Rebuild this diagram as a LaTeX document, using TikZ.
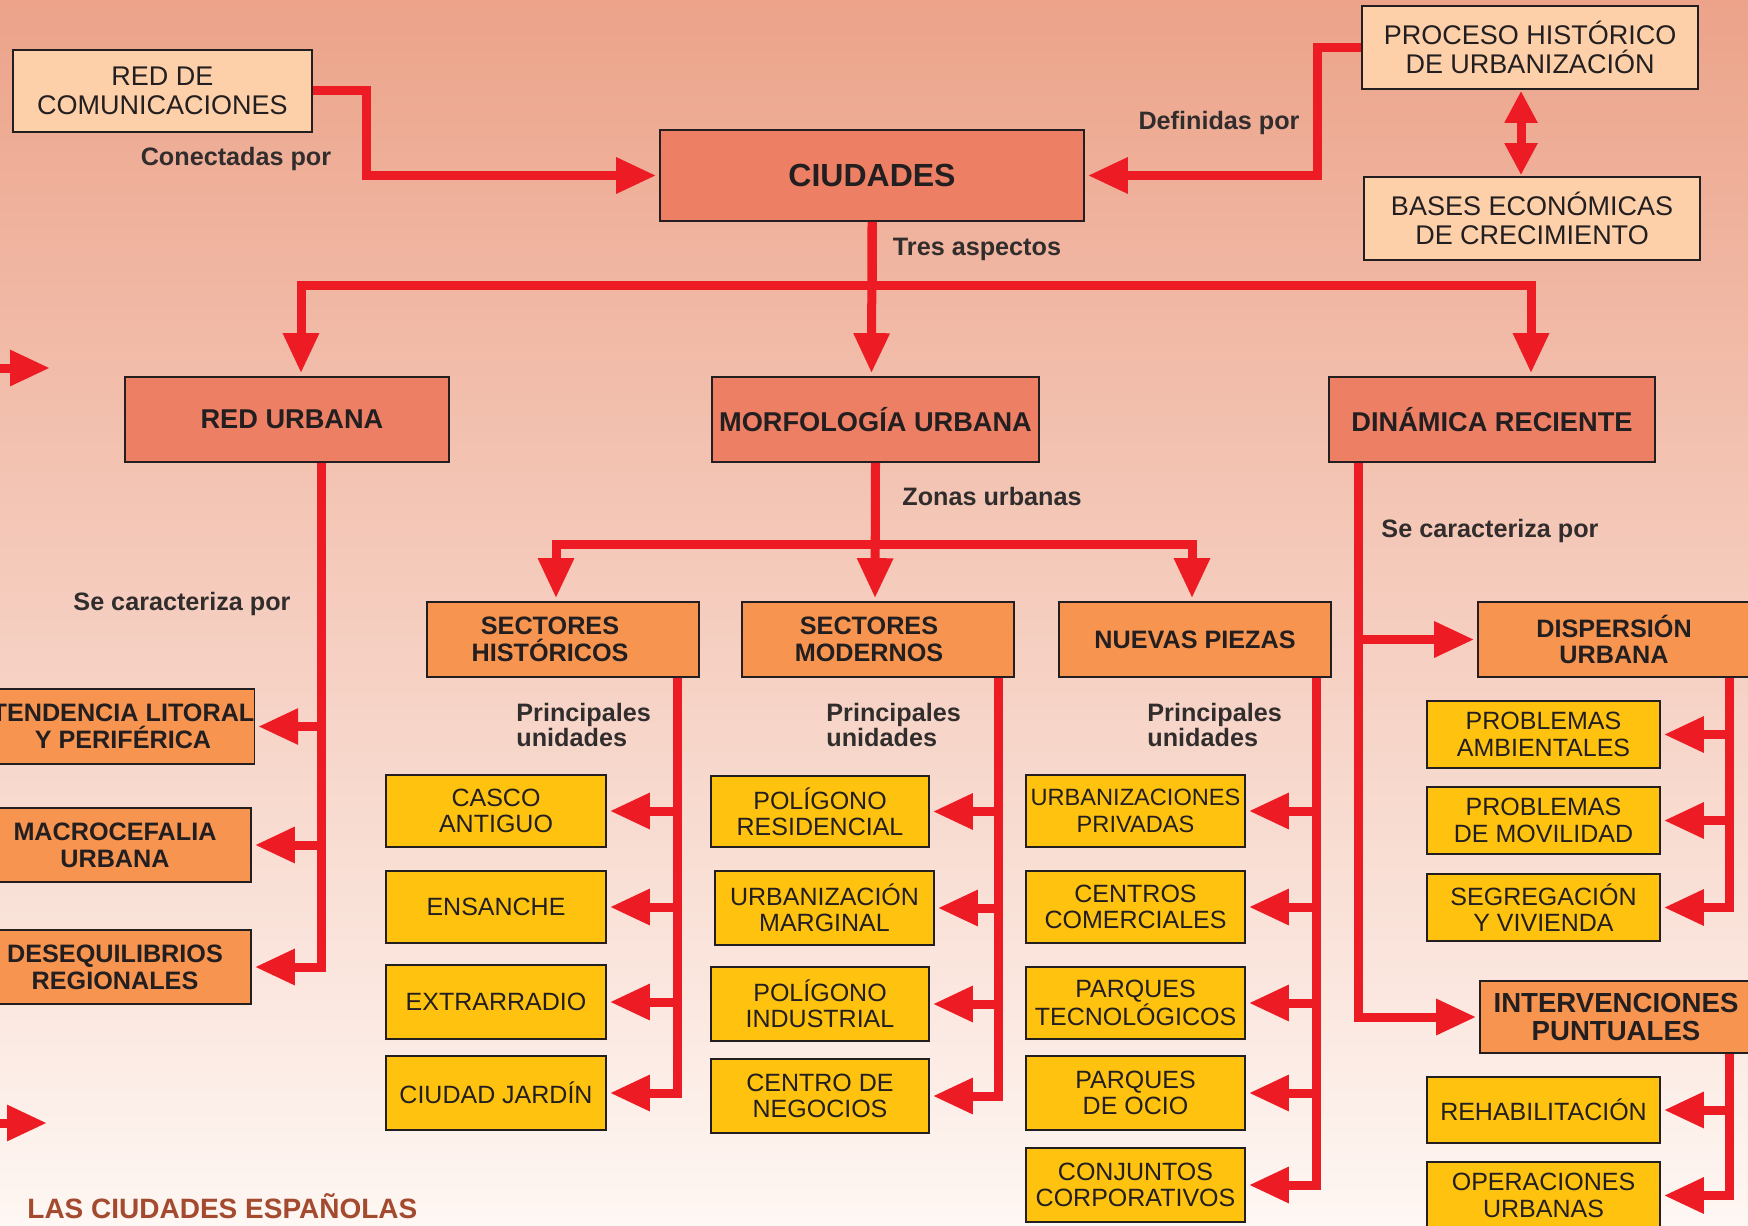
\documentclass[tikz,border=0pt]{standalone}
\usepackage{fontspec}
\setmainfont{Liberation Sans}
\usetikzlibrary{arrows.meta,calc}
\definecolor{bgtop}{RGB}{236,163,138}
\definecolor{bgmid}{RGB}{244,202,186}
\definecolor{bgbot}{RGB}{254,247,243}
\definecolor{peach}{RGB}{253,208,170}
\definecolor{salmon}{RGB}{236,127,100}
\definecolor{orangebox}{RGB}{247,148,80}
\definecolor{yellowbox}{RGB}{255,194,15}
\definecolor{redline}{RGB}{237,28,36}
\definecolor{txt}{RGB}{35,31,32}
\definecolor{lbl}{RGB}{50,45,45}
\definecolor{titlec}{RGB}{163,74,47}
\begin{document}
\begin{tikzpicture}[x=0.5pt,y=-0.5pt,
  sz/.style 2 args={minimum width=#1*0.5pt, minimum height=#2*0.5pt},
  box/.style={draw=txt, line width=0.8pt, inner sep=0pt, align=center, text=txt},
  topbox/.style={box, fill=peach, font=\fontsize{13.5}{14.5}\selectfont},
  mainbox/.style={box, fill=salmon, font=\fontsize{16}{18}\selectfont\bfseries},
  lvltwo/.style={box, fill=salmon, font=\fontsize{13.6}{15}\selectfont\bfseries},
  lvlthree/.style={box, fill=orangebox, font=\fontsize{12.6}{13.4}\selectfont\bfseries},
  ybox/.style={box, fill=yellowbox, font=\fontsize{12.5}{13.2}\selectfont},
  lab/.style={inner sep=0pt, text=lbl, font=\fontsize{12.6}{12.5}\selectfont\bfseries},
  conn/.style={draw=redline, line width=4.5pt, -{Triangle[length=20pt,width=17pt]}, shorten >=1.5pt},
  dbl/.style={draw=redline, line width=4.5pt, {Triangle[length=16pt,width=15.5pt]}-{Triangle[length=16pt,width=15.5pt]}, shorten >=0.5pt, shorten <=0.5pt}
]
\shade[top color=bgtop, middle color=bgmid, bottom color=bgbot] (0,0) rectangle (1748,1225);
\useasboundingbox (0,0) rectangle (1748,1225);
\clip (0,0) rectangle (1748,1225);

% top level
\node[topbox, sz={299}{82}] (redcom) at (162.5,91) {RED DE\\COMUNICACIONES};
\node[mainbox, sz={424}{91}] (ciudades) at (872,175.5) {CIUDADES};
\node[topbox, sz={336}{83}] (proceso) at (1530,47.5) {PROCESO HISTÓRICO\\DE URBANIZACIÓN};
\node[topbox, sz={336}{83}] (bases) at (1532,218.5) {BASES ECONÓMICAS\\DE CRECIMIENTO};

% second level
\node[lvltwo, sz={324}{85}] (redurb) at (287,419.5) {\hspace*{5pt}RED URBANA};
\node[lvltwo, sz={327}{85}] (morf) at (875.5,419.5) {MORFOLOGÍA URBANA};
\node[lvltwo, sz={326}{85}] (dinam) at (1492,419.5) {DINÁMICA RECIENTE};

% third level
\node[lvlthree, sz={272}{75}] (sechist) at (563,639.5) {SECTORES\hspace*{13pt}\\HISTÓRICOS\hspace*{13pt}};
\node[lvlthree, sz={272}{75}] (secmod) at (878,639.5) {SECTORES\hspace*{9pt}\\MODERNOS\hspace*{9pt}};
\node[lvlthree, sz={272}{75}] (nuevas) at (1195,639.5) {NUEVAS PIEZAS};
\node[lvlthree, sz={272}{75}] (dispersion) at (1614,639.5) {DISPERSIÓN\\URBANA};
\node[lvlthree, sz={272}{72}, font=\fontsize{13.8}{14}\selectfont\bfseries] (interv) at (1616,1017) {INTERVENCIONES\\PUNTUALES};
\node[lvlthree, sz={260}{75}] (tendencia) at (123,726.5) {TENDENCIA LITORAL\\Y PERIFÉRICA};
\node[lvlthree, sz={272}{74}] (macro) at (115,845) {MACROCEFALIA\\URBANA};
\node[lvlthree, sz={272}{74}] (deseq) at (115,967) {DESEQUILIBRIOS\\REGIONALES};

% yellow column 1
\node[ybox, sz={220}{72}] (casco) at (496,811) {CASCO\\ANTIGUO};
\node[ybox, sz={220}{72}] (ensanche) at (496,907) {ENSANCHE};
\node[ybox, sz={220}{74}] (extrarradio) at (496,1002) {EXTRARRADIO};
\node[ybox, sz={220}{74}] (jardin) at (496,1093) {CIUDAD JARDÍN};
% yellow column 2
\node[ybox, sz={218}{71}] (polres) at (820,811.5) {POLÍGONO\\RESIDENCIAL};
\node[ybox, sz={219}{74}] (urbmarg) at (824.5,908) {URBANIZACIÓN\\MARGINAL};
\node[ybox, sz={218}{74}] (polind) at (820,1004) {POLÍGONO\\INDUSTRIAL};
\node[ybox, sz={218}{74}] (negocios) at (820,1096) {CENTRO DE\\NEGOCIOS};
% yellow column 3
\node[ybox, sz={219}{72}, font=\fontsize{11.8}{13.2}\selectfont] (urbpriv) at (1135.5,811) {URBANIZACIONES\\PRIVADAS};
\node[ybox, sz={219}{72}] (comerciales) at (1135.5,907) {CENTROS\\COMERCIALES};
\node[ybox, sz={219}{72}] (tecno) at (1135.5,1003) {PARQUES\\TECNOLÓGICOS};
\node[ybox, sz={219}{74}] (ocio) at (1135.5,1093) {PARQUES\\DE OCIO};
\node[ybox, sz={219}{74}] (conjuntos) at (1135.5,1185) {CONJUNTOS\\CORPORATIVOS};
% yellow column 4
\node[ybox, sz={233}{67}] (probamb) at (1543.5,734.5) {PROBLEMAS\\AMBIENTALES};
\node[ybox, sz={233}{67}] (probmov) at (1543.5,820.5) {PROBLEMAS\\DE MOVILIDAD};
\node[ybox, sz={233}{67}] (segreg) at (1543.5,907.5) {SEGREGACIÓN\\Y VIVIENDA};
\node[ybox, sz={233}{66}] (rehab) at (1543.5,1110) {REHABILITACIÓN};
\node[ybox, sz={233}{67}] (operac) at (1543.5,1195.5) {OPERACIONES\\URBANAS};

% labels
\node[lab] (l1) at (236,159) {Conectadas por};
\node[lab] (l2) at (1219,123) {Definidas por};
\node[lab] (l3) at (977,249) {Tres aspectos};
\node[lab] (l4) at (992,496) {Zonas urbanas};
\node[lab] (l5) at (182,604) {Se caracteriza por};
\node[lab] (l6) at (1490,531) {Se caracteriza por};
\node[lab, align=left, anchor=west] (l7) at (516,724.5) {Principales\\unidades};
\node[lab, align=left, anchor=west] (l8) at (826,724.5) {Principales\\unidades};
\node[lab, align=left, anchor=west] (l9) at (1147,724.5) {Principales\\unidades};
\node[anchor=base west, inner sep=0pt, text=titlec, font=\fontsize{14}{14}\selectfont\bfseries] (title) at (27,1218) {LAS CIUDADES ESPAÑOLAS};

% connectors top
\draw[conn] (redcom.east) -- ++(54,0) |- (ciudades.west);
\draw[conn] (proceso.west) -- ++(-44,0) |- (ciudades.east);
\draw[dbl] ([xshift=-4.5pt]proceso.south) -- ([xshift=-5.5pt]bases.north);
\draw[conn] (ciudades.south) -- ++(0,64) -| ([xshift=7pt]redurb.north);
\draw[conn] (ciudades.south) -- ++(0,64) -| ([xshift=19.5pt]dinam.north);
\draw[conn] (ciudades.south) -- ([xshift=-2pt]morf.north);

% red urbana
\draw[conn] ([xshift=17pt]redurb.south) |- (tendencia.east);
\draw[conn] ([xshift=17pt]redurb.south) |- (macro.east);
\draw[conn] ([xshift=17pt]redurb.south) |- (deseq.east);

% morfologia
\draw[conn] (morf.south) -- ++(0,82) -| ([xshift=-3.5pt]sechist.north);
\draw[conn] (morf.south) -- ++(0,82) -| ([xshift=-1.5pt]nuevas.north);
\draw[conn] (morf.south) -- ([xshift=-1.5pt]secmod.north);

% sectores historicos
\draw[conn] ([xshift=-11pt]sechist.south east) |- (casco.east);
\draw[conn] ([xshift=-11pt]sechist.south east) |- (ensanche.east);
\draw[conn] ([xshift=-11pt]sechist.south east) |- (extrarradio.east);
\draw[conn] ([xshift=-11pt]sechist.south east) |- (jardin.east);
% sectores modernos
\draw[conn] ([xshift=-8pt]secmod.south east) |- (polres.east);
\draw[conn] ([xshift=-8pt]secmod.south east) |- (urbmarg.east);
\draw[conn] ([xshift=-8pt]secmod.south east) |- (polind.east);
\draw[conn] ([xshift=-8pt]secmod.south east) |- (negocios.east);
% nuevas piezas
\draw[conn] ([xshift=-7.5pt]nuevas.south east) |- (urbpriv.east);
\draw[conn] ([xshift=-7.5pt]nuevas.south east) |- (comerciales.east);
\draw[conn] ([xshift=-7.5pt]nuevas.south east) |- (tecno.east);
\draw[conn] ([xshift=-7.5pt]nuevas.south east) |- (ocio.east);
\draw[conn] ([xshift=-7.5pt]nuevas.south east) |- (conjuntos.east);

% dinamica
\draw[conn] ([xshift=15pt]dinam.south west) |- (dispersion.west);
\draw[conn] ([xshift=15pt]dinam.south west) |- (interv.west);
\draw[conn] ([xshift=126pt]dispersion.south west) |- (probamb.east);
\draw[conn] ([xshift=126pt]dispersion.south west) |- (probmov.east);
\draw[conn] ([xshift=126pt]dispersion.south west) |- (segreg.east);
\draw[conn] ([xshift=125pt]interv.south west) |- (rehab.east);
\draw[conn] ([xshift=125pt]interv.south west) |- (operac.east);

% stray arrows at left edge
\coordinate (sa1) at (0,368);
\coordinate (sb1) at (50,368);
\coordinate (sa2) at (0,1123);
\coordinate (sb2) at (47,1123);
\draw[conn, shorten >=0pt] (sa1) -- (sb1);
\draw[conn, shorten >=0pt] (sa2) -- (sb2);
\end{tikzpicture}
\end{document}
